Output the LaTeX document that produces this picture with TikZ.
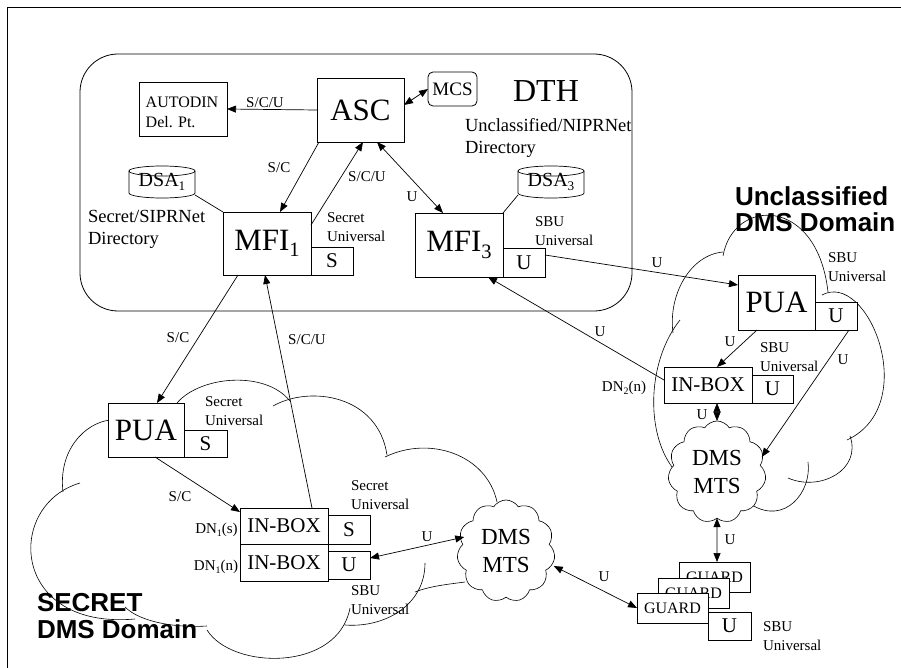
\documentclass[tikz,border=0pt]{standalone}
\usepackage{fontspec}
\setmainfont{Liberation Serif}
\newfontfamily\domainfont{Liberation Sans}
\usetikzlibrary{arrows.meta,shapes.symbols,calc}

% lowered, reduced index digit
\newcommand{\idx}[1]{\raisebox{-0.2em}{\scalebox{0.66}{#1}}}

\tikzset{
  every node/.style={inner sep=0pt, outer sep=0pt},
  box/.style={draw, fill=white, line width=0.8pt},
  bigtxt/.style={font=\fontsize{31}{31}\selectfont},
  midtxt/.style={font=\fontsize{21}{21}\selectfont},
  dsatxt/.style={font=\fontsize{20}{20}\selectfont},
  lab/.style={font=\fontsize{15}{19}\selectfont, align=left},
  dirlab/.style={font=\fontsize{18.5}{22}\selectfont, align=left},
  domtitle/.style={font=\domainfont\bfseries\fontsize{26}{26.5}\selectfont, align=left},
  tip/.style={-{Triangle[length=9pt,width=7pt]}, line width=0.7pt},
  bitip/.style={{Triangle[length=9pt,width=7pt]}-{Triangle[length=9pt,width=7pt]}, line width=0.7pt},
  tie/.style={line width=0.7pt},
  puff/.style={line width=0.6pt},
  mts/.style={cloud, cloud puffs=11, cloud puff arc=115, aspect=1, draw, fill=white,
    line width=0.6pt, minimum width=98pt, minimum height=102pt,
    font=\fontsize{23}{28}\selectfont, align=center}
}

\begin{document}
\begin{tikzpicture}[x=1pt,y=-1pt]
\useasboundingbox (0,0) rectangle (901,668);

% outer frame
\draw[line width=0.8pt] (7,668) -- (7,7) -- (901,7);

% DTH enclosure
\node[draw, line width=0.8pt, rounded corners=38pt, minimum width=552pt, minimum height=257pt] (dth) at (356,182.5) {};
\node[font=\fontsize{32}{32}\selectfont] (dthlab) at (546,91) {DTH};
\node[dirlab, anchor=west] (nipr) at (465,138) {Unclassified/NIPRNet\\Directory};
\node[dirlab, anchor=west] (sipr) at (88,229) {Secret/SIPRNet\\Directory};

% SECRET domain outline
\draw[puff] (63,492) .. controls (58,450) and (85,423) .. (110,420);
\draw[puff] (177,403) .. controls (200,376) and (265,370) .. (290,401);
\draw[puff] (273,406) .. controls (310,385) and (378,395) .. (387,455);
\draw[puff] (385,457) .. controls (430,435) and (487,455) .. (497,502);
\draw[puff] (425,563) .. controls (425,605) and (385,628) .. (345,625);
\draw[puff] (415,592) .. controls (430,586) and (450,584) .. (465,582);
\draw[puff] (350,608) .. controls (338,672) and (232,670) .. (207,630);
\draw[puff] (80,483) .. controls (5,505) and (10,630) .. (135,619);
\draw[puff] (125,607) .. controls (140,622) and (175,628) .. (207,626);

% Unclassified domain outline
\draw[puff] (673,333) .. controls (668,295) and (690,255) .. (723,252);
\draw[puff] (723,256) .. controls (733,198) and (817,195) .. (828,292);
\draw[puff] (822,295) .. controls (868,270) and (922,405) .. (847,440);
\draw[puff] (850,436) .. controls (862,470) and (820,492) .. (788,478);
\draw[puff] (808,462) .. controls (812,492) and (785,525) .. (752,505);
\draw[puff] (680,320) .. controls (648,360) and (645,430) .. (672,467);

% domain titles
\node[domtitle, anchor=west] (secdom) at (37,616) {SECRET\\DMS Domain};
\node[domtitle, anchor=west] (unclsdom) at (735,209) {Unclassified\\DMS Domain};

% message transfer clouds
\node[mts] (lmts) at (506,551) {DMS\\MTS};
\node[mts] (rmts) at (717,472) {DMS\\MTS};

% DTH components
\node[box, bigtxt, minimum width=87pt, minimum height=64pt] (asc) at (360.5,110) {ASC};
\node[box, minimum width=88pt, minimum height=54pt] (autodin) at (183,109) {};
\node[font=\fontsize{16}{20}\selectfont, align=left] (autodintxt) at (182,112) {AUTODIN\\Del. Pt.};
\node[box, rounded corners=5pt, font=\fontsize{19}{19}\selectfont, minimum width=49pt, minimum height=34pt] (mcs) at (452.5,89) {MCS};
\node[box, bigtxt, minimum width=88pt, minimum height=63pt] (mfi1) at (267,243.5) {MFI\idx{1}};
\node[box, midtxt, minimum width=42pt, minimum height=28pt] (mfi1s) at (332,261) {S};
\node[box, bigtxt, minimum width=88pt, minimum height=64pt] (mfi3) at (459,245) {MFI\idx{3}};
\node[box, midtxt, minimum width=42pt, minimum height=29pt] (mfi3u) at (524,262.5) {U};

% directory stores
\foreach \nm/\cx/\sub in {dsa1/162/1, dsa3/551/3}{
  \node[dsatxt, minimum width=66pt, minimum height=32pt] (\nm) at (\cx,182) {DSA\idx{\sub}};
  \draw[line width=0.7pt] ([yshift=-5pt]\nm.north west) -- ([yshift=5pt]\nm.south west)
    arc[start angle=180, end angle=360, x radius=33pt, y radius=5pt]
    -- ([yshift=-5pt]\nm.north east);
  \draw[line width=0.7pt] ([yshift=-5pt]\nm.north) ellipse[x radius=33pt, y radius=5pt];
}

% SECRET side components
\node[box, bigtxt, minimum width=76pt, minimum height=54pt] (lpua) at (146,430) {PUA};
\node[box, midtxt, minimum width=43pt, minimum height=27pt] (lpuas) at (205.5,443.5) {S};
\node[box, midtxt, minimum width=88pt, minimum height=36pt] (linbs) at (284,526) {IN-BOX};
\node[box, midtxt, minimum width=42pt, minimum height=29pt] (linbss) at (349,529.5) {S};
\node[box, midtxt, minimum width=88pt, minimum height=37pt] (linbn) at (284,562.5) {IN-BOX};
\node[box, midtxt, minimum width=42pt, minimum height=28pt] (linbnu) at (349,565) {U};

% Unclassified side components
\node[box, bigtxt, minimum width=77pt, minimum height=55pt] (rpua) at (776.5,302.5) {PUA};
\node[box, midtxt, minimum width=42pt, minimum height=28pt] (rpuau) at (836,316) {U};
\node[box, midtxt, minimum width=88pt, minimum height=36pt] (rinb) at (708,385) {IN-BOX};
\node[box, midtxt, minimum width=41pt, minimum height=28pt] (rinbu) at (772.5,389) {U};

% guard stack
\node[box, font=\fontsize{16}{16}\selectfont, minimum width=71pt, minimum height=30pt] (gback) at (714.5,577) {GUARD};
\node[box, font=\fontsize{16}{16}\selectfont, minimum width=71pt, minimum height=30pt] (gmid) at (693.5,593) {GUARD};
\node[box, font=\fontsize{16}{16}\selectfont, minimum width=71pt, minimum height=30pt] (gfront) at (672.5,608) {GUARD};
\node[box, midtxt, minimum width=43pt, minimum height=28pt] (gu) at (729.5,626) {U};

% DTH connectors
\draw[tip] (asc.west) -- (autodin.east);
\draw[bitip] ([yshift=5pt]asc.east) -- (mcs.west);
\draw[tip] ([xshift=2pt]asc.south west) -- ([xshift=13pt]mfi1.north);
\draw[tip] ([yshift=-13pt]mfi1.north east) -- ([xshift=2.5pt]asc.south);
\draw[bitip] ([xshift=16.5pt]asc.south) -- ([xshift=-16pt]mfi3.north);
\draw[tie] ([yshift=3pt]dsa1.south east) -- (mfi1.north west);
\draw[tie] ([yshift=3pt]dsa3.south west) -- (mfi3.north east);

% cross-domain connectors
\draw[tip] ([yshift=7.5pt]mfi3u.east) -- ([yshift=17.5pt]rpua.west);
\draw[tip] ([yshift=5pt]rinb.west) -- ([xshift=29pt]mfi3.south);
\draw[tip] ([xshift=15pt]mfi1.south west) -- ([xshift=11pt]lpua.north);
\draw[tip] ([xshift=28pt]linbs.north) -- ([xshift=-2pt]mfi1.south);

% Unclassified domain connectors
\draw[tip] ([xshift=-19.5pt]rpua.south) -- ([xshift=9pt]rinb.north);
\draw[tip] ([xshift=13pt]rpuau.south) -- ([xshift=-3pt,yshift=15pt]rmts.east);
\draw[bitip] ([xshift=9pt]rinb.south) -- (rmts.north);
\draw[bitip] (rmts.south) -- ([xshift=2.5pt]gback.north);

% SECRET domain connectors
\draw[tip] ([xshift=9pt]lpua.south) -- ([yshift=-4pt]linbs.north west);
\draw[bitip] ([yshift=7pt]linbnu.east) -- ([xshift=6pt,yshift=14pt]lmts.west);
\draw[bitip] ([yshift=-15pt]lmts.east) -- (gfront.west);

% connector labels
\node[lab] (l1) at (265,103) {S/C/U};
\node[lab] (l2) at (279,168) {S/C};
\node[lab] (l3) at (367,177) {S/C/U};
\node[lab] (l4) at (412,197) {U};
\node[lab] (l5) at (657,263) {U};
\node[lab] (l6) at (600,332) {U};
\node[lab] (l7) at (730,342) {U};
\node[lab] (l8) at (843,360) {U};
\node[lab] (l9) at (702,415) {U};
\node[lab] (l10) at (730,540) {U};
\node[lab] (l11) at (604,577) {U};
\node[lab] (l12) at (427,537) {U};
\node[lab] (l13) at (178,338) {S/C};
\node[lab] (l14) at (307,340) {S/C/U};
\node[lab] (l15) at (180,497) {S/C};

% classification notes
\node[lab, anchor=west] (n1) at (327,227.5) {Secret\\Universal};
\node[lab, anchor=west] (n2) at (535,231.5) {SBU\\Universal};
\node[lab, anchor=west] (n3) at (828,267.5) {SBU\\Universal};
\node[lab, anchor=west] (n4) at (760,357.5) {SBU\\Universal};
\node[lab, anchor=west] (n5) at (763,636) {SBU\\Universal};
\node[lab, anchor=west] (n6) at (205,411.5) {Secret\\Universal};
\node[lab, anchor=west] (n7) at (351,495.5) {Secret\\Universal};
\node[lab, anchor=west] (n8) at (351,600.5) {SBU\\Universal};

% distinguished names
\node[lab] (dn1s) at (216.5,530) {DN\idx{1}(s)};
\node[lab] (dn1n) at (216,567) {DN\idx{1}(n)};
\node[lab] (dn2n) at (624,388) {DN\idx{2}(n)};
\end{tikzpicture}
\end{document}
